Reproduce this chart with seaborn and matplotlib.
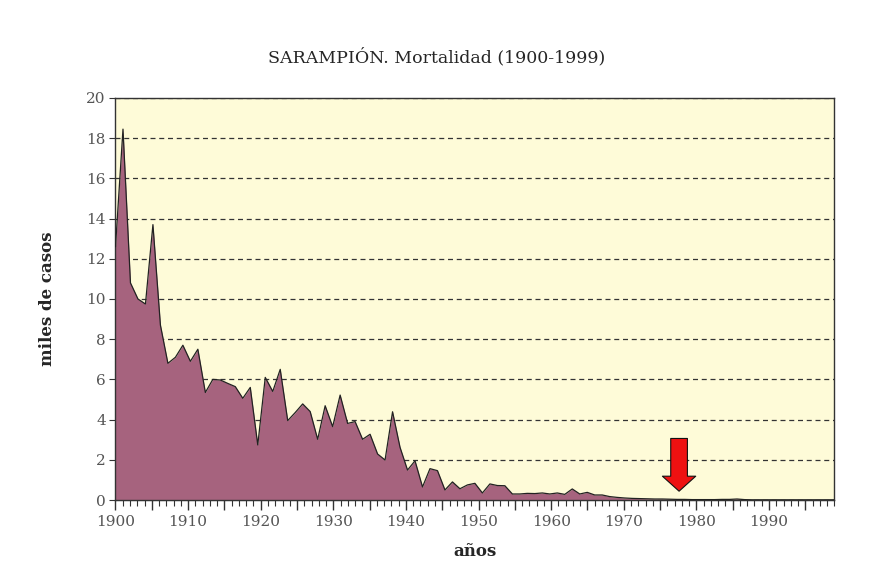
# Sarampión - mortalidad anual 1900-1999 (area chart)
import numpy as np
import pandas as pd
import matplotlib
matplotlib.use("Agg")
import matplotlib.pyplot as plt
import seaborn as sns

# ==============================
# datos (miles de casos)
# ==============================
years = list(range(1900, 1997))
deaths = [
    12.6, 18.45, 10.8, 10.0, 9.75, 13.7, 8.7, 6.8, 7.1, 7.7,
    6.9, 7.5, 5.35, 6.0, 5.97, 5.8, 5.64, 5.06, 5.6, 2.74,
    6.1, 5.4, 6.5, 3.95, 4.35, 4.78, 4.4, 3.02, 4.69, 3.65,
    5.22, 3.81, 3.9, 3.02, 3.27, 2.29, 1.99, 4.39, 2.62, 1.49,
    1.95, 0.65, 1.56, 1.46, 0.5, 0.9, 0.56, 0.75, 0.83, 0.35,
    0.8, 0.72, 0.71, 0.3, 0.3, 0.33, 0.32, 0.35, 0.3, 0.35,
    0.28, 0.55, 0.3, 0.38, 0.25, 0.25, 0.17, 0.13, 0.1, 0.08,
    0.07, 0.06, 0.05, 0.05, 0.04, 0.03, 0.03, 0.02, 0.02, 0.02,
    0.02, 0.03, 0.03, 0.05, 0.02, 0.01, 0.01, 0.01, 0.01, 0.01,
    0.01, 0.01, 0.01, 0.01, 0.01, 0.01, 0.01,
]
y_ticks = list(range(0, 21, 2))
decade_labels = list(range(1900, 2000, 10))

df = pd.DataFrame({"year": years, "deaths": deaths})

title = "SARAMPIÓN. Mortalidad (1900-1999)"
xlabel = "años"
ylabel = "miles de casos"

# ==============================
# estilo
# ==============================
sns.set_style("ticks")
plt.rcParams["font.family"] = ["DejaVu Serif"]

fill_color = "#A6637E"
bg_color = "#FEFBD8"
tick_color = "#555555"

fig = plt.figure(figsize=(8.83, 5.66), dpi=100)
ax = fig.add_axes([0.1308, 0.1166, 0.8141, 0.7103])
ax.set_facecolor(bg_color)

ax.fill_between(df["year"], df["deaths"], 0, color=fill_color, lw=0, zorder=2)
sns.lineplot(data=df, x="year", y="deaths", ax=ax, color="#222222", lw=0.9, zorder=3)

ax.set_xlim(years[0], years[-1])
ax.set_ylim(0, 20)
ax.set_yticks(y_ticks)
ax.yaxis.grid(True, linestyle=(0, (4, 3)), color="#333333", lw=0.9, zorder=1)
ax.set_axisbelow(True)
ax.tick_params(axis="y", direction="out", length=4, colors="#333333",
               labelcolor=tick_color, labelsize=11, pad=3)
ax.tick_params(axis="x", bottom=False, labelbottom=False)
ax.set_xlabel("")
ax.set_ylabel(ylabel, fontsize=12, fontweight="bold", labelpad=22)

for s in ax.spines.values():
    s.set_color("#333333")
    s.set_linewidth(1.0)

# eje de años (la serie ocupa todo el ancho hasta 1999)
span_data = years[-1] - years[0]
span_label = 1999 - 1900


def to_label(x):
    return 1900 + (np.asarray(x) - years[0]) * span_label / span_data


def to_data(x):
    return years[0] + (np.asarray(x) - 1900) * span_data / span_label


secax = ax.secondary_xaxis("bottom", functions=(to_label, to_data))
secax.set_xticks(list(range(1900, 2000, 5)))
secax.set_xticklabels([str(y) if y in decade_labels else "" for y in range(1900, 2000, 5)])
secax.set_xticks(list(range(1900, 2000)), minor=True)
secax.tick_params(axis="x", which="major", direction="out", length=7, width=1.0,
                  colors="#333333", labelcolor=tick_color, labelsize=11, pad=4)
secax.tick_params(axis="x", which="minor", direction="out", length=4, width=0.8,
                  colors="#333333")
secax.spines["bottom"].set_color("#333333")
secax.set_xlabel(xlabel, fontsize=12, fontweight="bold", labelpad=10)

# flecha roja (vacunación)
ax.annotate(
    "", xy=(0.784, 0.3), xytext=(0.784, 3.2),
    xycoords=("axes fraction", "data"), textcoords=("axes fraction", "data"),
    arrowprops=dict(arrowstyle="simple,head_length=0.9,head_width=2.0,tail_width=1.0",
                    mutation_scale=12, fc="#EE1111", ec="#111111", lw=0.8),
    zorder=5,
)

fig.text(0.495, 0.9, title, ha="center", va="center", fontsize=12.5)

fig.savefig("out.png", dpi=100, facecolor="white")
